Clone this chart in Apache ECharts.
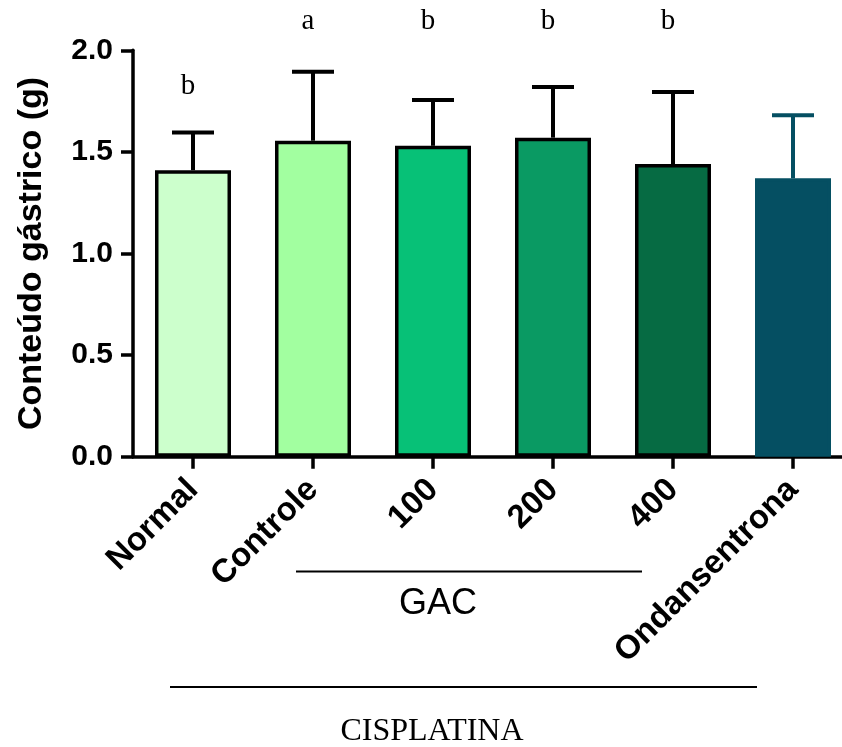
<!DOCTYPE html>
<html>
<head>
<meta charset="utf-8">
<script src="https://cdn.jsdelivr.net/npm/echarts@6/dist/echarts.min.js"></script>
<style>
  html, body { margin: 0; padding: 0; background: #ffffff; }
  #chart { width: 842px; height: 747px; }
</style>
</head>
<body>
<div id="chart"></div>
<script>
// Gastric content (g) per group: mean and standard deviation
const categories = ['Normal', 'Controle', '100', '200', '400', 'Ondansentrona'];
const means = [1.41, 1.555, 1.53, 1.57, 1.44, 1.37];
const sds = [0.185, 0.34, 0.225, 0.25, 0.355, 0.31];
const barColors = ['#CCFFCC', '#A2FFA0', '#07C177', '#0A9A63', '#066B43', '#054F62'];
const edgeColors = ['#000000', '#000000', '#000000', '#000000', '#000000', '#054F62'];

// Significance letters and the value level each one is written at
const letters = ['b', 'a', 'b', 'b', 'b', ''];
const letterLevels = [1.82, 2.14, 2.14, 2.14, 2.14, null];

const yTicks = [0, 0.5, 1.0, 1.5, 2.0];

const chart = echarts.init(document.getElementById('chart'), null, { renderer: 'canvas' });

const sansBold = { fontFamily: '"Liberation Sans", Arial, sans-serif', fontWeight: 'bold', color: '#000' };

const option = {
  animation: false,
  backgroundColor: '#ffffff',
  grid: { left: 133, top: 50.3, width: 720, height: 406.4, containLabel: false, outerBoundsMode: 'none' },
  xAxis: {
    type: 'category',
    data: categories,
    boundaryGap: true,
    axisLine: { show: true, lineStyle: { color: '#000', width: 3.5 } },
    axisTick: { show: true, alignWithLabel: true, interval: 0, length: 12, lineStyle: { color: '#000', width: 3.5 } },
    axisLabel: Object.assign({ interval: 0, rotate: 45, fontSize: 33, margin: 28, hideOverlap: false }, sansBold),
    splitLine: { show: false }
  },
  yAxis: {
    type: 'value',
    min: yTicks[0],
    max: yTicks[yTicks.length - 1],
    interval: 0.5,
    name: 'Conteúdo gástrico (g)',
    nameLocation: 'middle',
    nameRotate: 90,
    nameGap: 84,
    nameTextStyle: Object.assign({ fontSize: 34 }, sansBold),
    axisLine: { show: true, lineStyle: { color: '#000', width: 3.5 } },
    axisTick: { show: true, length: 12, lineStyle: { color: '#000', width: 3.5 } },
    axisLabel: Object.assign({ fontSize: 30, margin: 20, formatter: v => v.toFixed(1) }, sansBold),
    splitLine: { show: false }
  },
  series: [
    {
      type: 'bar',
      barWidth: 76,
      data: means.map((m, i) => ({
        value: m,
        itemStyle: { color: barColors[i], borderColor: edgeColors[i], borderWidth: 3.5 }
      })),
      z: 2
    },
    {
      // error bars: mean up to mean + SD, with a cap
      type: 'custom',
      data: means.map((m, i) => [i, m, m + sds[i]]),
      z: 3,
      renderItem: function (params, api) {
        const i = api.value(0);
        const base = api.coord([i, api.value(1)]);
        const top = api.coord([i, api.value(2)]);
        const half = 21;
        const col = edgeColors[i];
        const style = { stroke: col, lineWidth: 4, fill: null };
        return {
          type: 'group',
          children: [
            { type: 'line', shape: { x1: top[0], y1: base[1], x2: top[0], y2: top[1] }, style: style },
            { type: 'line', shape: { x1: top[0] - half, y1: top[1], x2: top[0] + half, y2: top[1] }, style: style }
          ]
        };
      }
    },
    {
      // significance letters above groups
      type: 'custom',
      data: letters.map((t, i) => [i, letterLevels[i] === null ? 0 : letterLevels[i]]),
      z: 4,
      clip: false,
      renderItem: function (params, api) {
        const i = api.value(0);
        if (!letters[i]) return null;
        const p = api.coord([i, api.value(1)]);
        return {
          type: 'text',
          x: p[0] - 5,
          y: p[1],
          style: {
            text: letters[i],
            fontFamily: '"Liberation Serif", "Times New Roman", serif',
            fontSize: 29,
            fill: '#000',
            align: 'center',
            verticalAlign: 'middle'
          }
        };
      }
    }
  ],
  graphic: [
    { type: 'line', shape: { x1: 296, y1: 571.5, x2: 642, y2: 571.5 }, style: { stroke: '#000', lineWidth: 2 } },
    {
      type: 'text', x: 438, y: 604,
      style: { text: 'GAC', fontFamily: '"Liberation Sans", Arial, sans-serif', fontSize: 36, fill: '#000', align: 'center', verticalAlign: 'middle' }
    },
    { type: 'line', shape: { x1: 170, y1: 687, x2: 757, y2: 687 }, style: { stroke: '#000', lineWidth: 2 } },
    {
      type: 'text', x: 432, y: 732,
      style: { text: 'CISPLATINA', fontFamily: '"Liberation Serif", "Times New Roman", serif', fontSize: 32, fill: '#000', align: 'center', verticalAlign: 'middle' }
    }
  ]
};

chart.setOption(option);
</script>
</body>
</html>
